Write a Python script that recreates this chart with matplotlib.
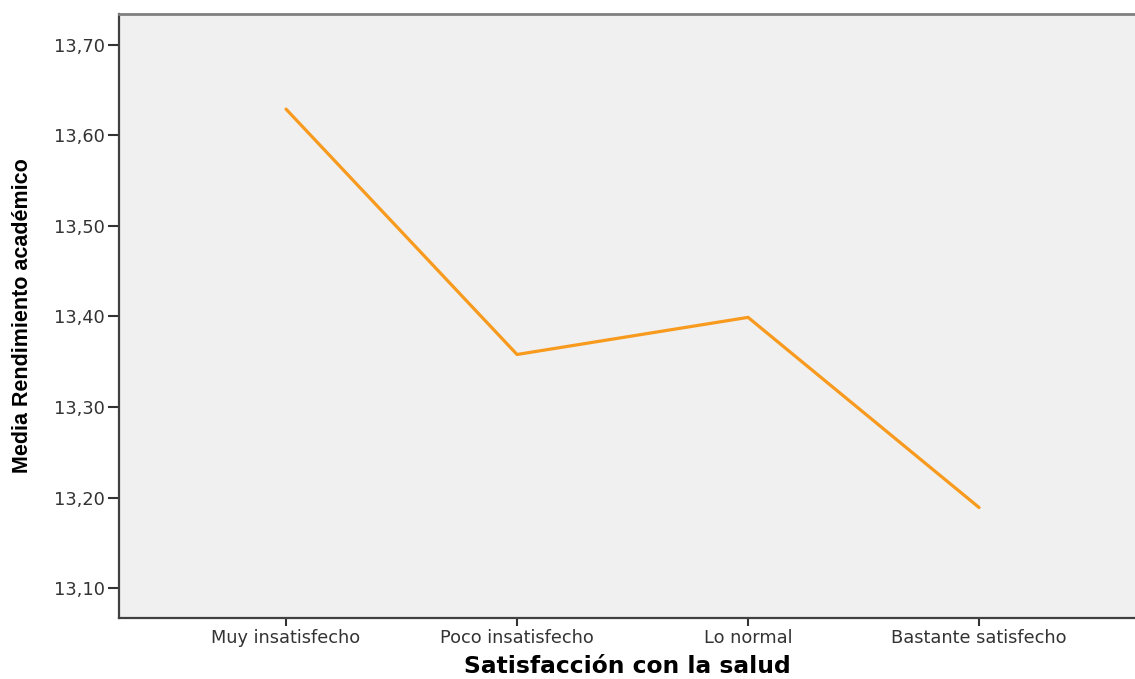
import matplotlib
matplotlib.use("Agg")
import matplotlib.pyplot as plt
from matplotlib.ticker import FuncFormatter

categorias = ["Muy insatisfecho", "Poco insatisfecho", "Lo normal", "Bastante satisfecho"]
medias = [13.629, 13.358, 13.399, 13.189]
yticks = [13.10, 13.20, 13.30, 13.40, 13.50, 13.60, 13.70]

fig = plt.figure(figsize=(11.35, 6.79), dpi=100)
ax = fig.add_axes([119 / 1135, 61 / 679, 1016 / 1135, 604 / 679])
ax.set_facecolor("#f0f0f0")

x = list(range(len(categorias)))
ax.plot(x, medias, color="#f79a1e", linewidth=2.3, solid_capstyle="round")

ax.set_xlim(-0.723, 3.675)
ax.set_ylim(13.067, 13.734)
ax.set_xticks(x)
ax.set_xticklabels(categorias, fontsize=12.8, family="DejaVu Sans", color="#333333")
ax.set_yticks(yticks)
ax.yaxis.set_major_formatter(FuncFormatter(lambda v, p: f"{v:.2f}".replace(".", ",")))
for lab in ax.get_yticklabels():
    lab.set_family("DejaVu Sans")
    lab.set_fontsize(12.8)
    lab.set_color("#333333")

ax.tick_params(axis="y", length=8, width=1.5, color="#333333", pad=2)
ax.tick_params(axis="x", length=6, width=1.5, color="#333333", pad=2)

ax.spines["right"].set_visible(False)
ax.spines["top"].set_color("#808080")
ax.spines["top"].set_linewidth(2)
for s in ["left", "bottom"]:
    ax.spines[s].set_color("#404040")
    ax.spines[s].set_linewidth(1.6)

ax.set_xlabel("Satisfacción con la salud", fontsize=16.8, fontweight="bold",
              family="DejaVu Sans", labelpad=6)
ax.set_ylabel("Media Rendimiento académico", fontsize=15.5, fontweight="bold",
              family="Liberation Sans", labelpad=15)

fig.savefig("out.png", dpi=100)
